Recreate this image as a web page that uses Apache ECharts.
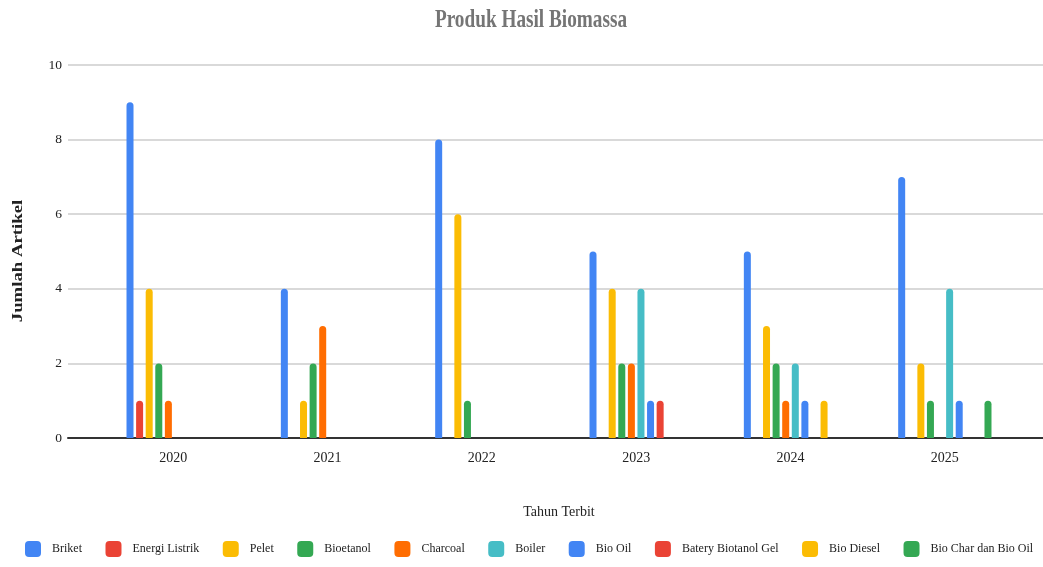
<!DOCTYPE html>
<html>
<head>
<meta charset="utf-8">
<script src="https://cdn.jsdelivr.net/npm/echarts@6/dist/echarts.min.js"></script>
<style>
  html, body { margin: 0; padding: 0; background: #fff; }
  #chart { width: 1043px; height: 567px; }
</style>
</head>
<body>
<div id="chart"></div>
<script>
  // data
  const years = ['2020', '2021', '2022', '2023', '2024', '2025']
  const seriesNames = ['Briket', 'Energi Listrik', 'Pelet', 'Bioetanol', 'Charcoal', 'Boiler',
    'Bio Oil', 'Batery Biotanol Gel', 'Bio Diesel', 'Bio Char dan Bio Oil']
  const briket = [9, 4, 8, 5, 5, 7]
  const energiListrik = [1, 0, 0, 0, 0, 0]
  const pelet = [4, 1, 6, 4, 3, 2]
  const bioetanol = [2, 2, 1, 2, 2, 1]
  const charcoal = [1, 3, 0, 2, 1, 0]
  const boiler = [0, 0, 0, 4, 2, 4]
  const bioOil = [0, 0, 0, 1, 1, 1]
  const bateryGel = [0, 0, 0, 1, 0, 0]
  const bioDiesel = [0, 0, 0, 0, 1, 0]
  const bioChar = [0, 0, 0, 0, 0, 1]
  const yTicks = [0, 2, 4, 6, 8, 10]

  const values = [briket, energiListrik, pelet, bioetanol, charcoal, boiler, bioOil, bateryGel, bioDiesel, bioChar]
  const colors = ['#4285F4', '#EA4335', '#FBBC04', '#34A853', '#FF6D01', '#46BDC6',
    '#4285F4', '#EA4335', '#FBBC04', '#34A853']
  const font = '"Liberation Serif", "DejaVu Serif", serif'

  const chart = echarts.init(document.getElementById('chart'))

  chart.setOption({
    color: colors,
    animation: false,
    // title and y name drawn as graphic text so they can be squeezed / stretched like the original
    graphic: [
      {
        type: 'text',
        x: 531,
        y: 21,
        scaleX: 0.77,
        style: {
          text: 'Produk Hasil Biomassa',
          font: 'bold 25px ' + font,
          fill: '#757575',
          textAlign: 'center',
          textVerticalAlign: 'middle',
          verticalAlign: 'middle'
        }
      },
      {
        type: 'text',
        x: 18,
        y: 261,
        rotation: Math.PI / 2,
        scaleX: 1.25,
        style: {
          text: 'Jumlah Artikel',
          font: 'bold 15px ' + font,
          fill: '#222',
          textAlign: 'center',
          textVerticalAlign: 'middle',
          verticalAlign: 'middle'
        }
      }
    ],
    legend: {
      bottom: 5,
      left: 20,
      width: 1040,
      itemWidth: 16,
      itemHeight: 16,
      itemGap: 23.5,
      icon: 'roundRect',
      textStyle: { fontFamily: font, fontSize: 12, color: '#222', padding: [0, 0, 0, 6] },
      data: seriesNames
    },
    grid: [
      // full width grid: gridlines + baseline
      { left: 68, right: 0, top: 65, bottom: 129 },
      // bars
      { left: 96, right: 21, top: 65, bottom: 129 }
    ],
    xAxis: [
      {
        gridIndex: 0,
        type: 'value',
        min: 0,
        max: 1,
        axisLine: { show: true, onZero: false, lineStyle: { color: '#333', width: 2 } },
        axisLabel: { show: false },
        axisTick: { show: false },
        splitLine: { show: false }
      },
      {
        gridIndex: 1,
        type: 'category',
        data: years,
        name: 'Tahun Terbit',
        nameLocation: 'middle',
        nameGap: 67,
        nameTextStyle: { fontFamily: font, fontSize: 14, color: '#222' },
        axisLine: { show: false },
        axisTick: { show: false },
        axisLabel: { fontFamily: font, fontSize: 14, color: '#222', margin: 13 }
      }
    ],
    yAxis: [
      {
        gridIndex: 0,
        type: 'value',
        min: yTicks[0],
        max: yTicks[yTicks.length - 1],
        interval: 2,
        axisLine: { show: false },
        axisTick: { show: false },
        axisLabel: { fontFamily: font, fontSize: 13.5, color: '#222', margin: 6 },
        splitLine: { lineStyle: { color: '#cccccc', width: 1.5 } }
      },
      {
        gridIndex: 1,
        type: 'value',
        min: yTicks[0],
        max: yTicks[yTicks.length - 1],
        interval: 2,
        show: false,
        splitLine: { show: false }
      }
    ],
    series: seriesNames.map((name, i) => ({
      name: name,
      type: 'bar',
      xAxisIndex: 1,
      yAxisIndex: 1,
      barWidth: 7,
      barGap: '37%',
      itemStyle: { borderRadius: [3.5, 3.5, 0, 0] },
      data: values[i]
    }))
  })
</script>
</body>
</html>
